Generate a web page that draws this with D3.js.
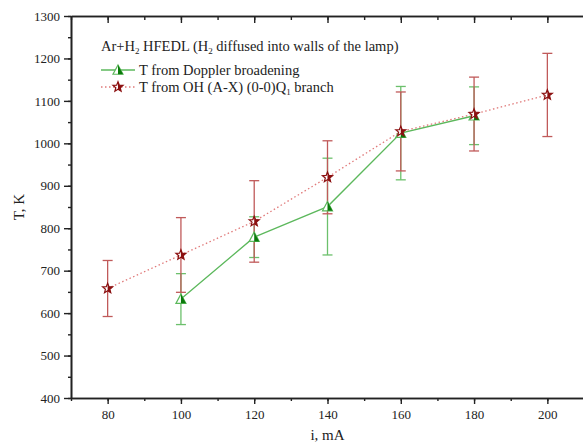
<!DOCTYPE html>
<html>
<head>
<meta charset="utf-8">
<script src="https://cdn.jsdelivr.net/npm/d3@7"></script>
<style>
  body { margin: 0; background: #fff; }
  text { font-family: "Liberation Serif", "Times New Roman", serif; fill: #222; }
</style>
</head>
<body>
<div id="chart"></div>
<script>
// data
var currents = [80, 100, 120, 140, 160, 180, 200];
var dopplerX = [100, 120, 140, 160, 180];
var dopplerT = [633, 779, 851, 1024, 1065];
var dopplerErr = [60, 48, 114, 110, 68];
var ohX = [80, 100, 120, 140, 160, 180, 200];
var ohT = [658, 737, 816, 920, 1028, 1069, 1114];
var ohErr = [66, 88, 96, 86, 93, 87, 98];
var yTicks = [400, 500, 600, 700, 800, 900, 1000, 1100, 1200, 1300];

var W = 583, H = 447;
var margin = { top: 16, right: -1, bottom: 49, left: 71 },
  width = W - margin.left - margin.right,
  height = H - margin.top - margin.bottom;

var svg = d3.select("#chart").append("svg")
  .attr("width", W).attr("height", H)
  .append("g")
  .attr("transform", "translate(" + margin.left + "," + margin.top + ")");

var x = d3.scaleLinear().domain([70, 210]).range([0, width]);
var y = d3.scaleLinear().domain([400, 1300]).range([height, 0]);

var xMinor = d3.range(70, 211, 10);
var yMinor = d3.range(400, 1301, 50);

// bottom axis
svg.append("g").attr("transform", "translate(0," + height + ")")
  .call(d3.axisBottom(x).tickValues(xMinor).tickSize(3).tickSizeOuter(0).tickFormat(""));
svg.append("g").attr("transform", "translate(0," + height + ")")
  .call(d3.axisBottom(x).tickValues(currents).tickSize(6).tickSizeOuter(0).tickPadding(6).tickFormat(d3.format("d")));
// top axis (inward)
svg.append("g").call(d3.axisBottom(x).tickValues(xMinor).tickSize(4).tickSizeOuter(0).tickFormat(""));
svg.append("g").call(d3.axisBottom(x).tickValues(currents).tickSize(7).tickSizeOuter(0).tickFormat(""));
// left axis
svg.append("g").call(d3.axisLeft(y).tickValues(yMinor).tickSize(3).tickSizeOuter(0).tickFormat(""));
svg.append("g").call(d3.axisLeft(y).tickValues(yTicks).tickSize(7).tickSizeOuter(0).tickPadding(4).tickFormat(d3.format("d")));
// right axis (inward)
svg.append("g").attr("transform", "translate(" + width + ",0)")
  .call(d3.axisLeft(y).tickValues(yMinor).tickSize(-4).tickSizeOuter(0).tickFormat(""));
svg.append("g").attr("transform", "translate(" + width + ",0)")
  .call(d3.axisLeft(y).tickValues(yTicks).tickSize(-7).tickSizeOuter(0).tickFormat(""));

svg.selectAll("g").attr("font-family", "Liberation Serif").attr("font-size", 13);
svg.selectAll(".domain").attr("stroke", "#222").attr("stroke-width", 1.6);
svg.selectAll(".tick line").attr("stroke", "#222").attr("stroke-width", 1.4);
svg.selectAll(".tick text").attr("fill", "#222");

// axis titles
svg.append("text").attr("x", x(140)).attr("y", height + 42)
  .attr("text-anchor", "middle").style("font-size", "15px").text("i, mA");
svg.append("text").attr("transform", "translate(" + (-47) + "," + y(850) + ") rotate(-90)")
  .attr("text-anchor", "middle").style("font-size", "15px").text("T, K");

// markers
function triPath(s) {
  return "M0," + (-s) + "L" + s + "," + (s * 0.85) + "L" + (-s) + "," + (s * 0.85) + "Z";
}
function triHalf(s) {
  return "M0," + (-s) + "L" + s + "," + (s * 0.85) + "L0," + (s * 0.85) + "Z";
}
function starPts(R, r) {
  var pts = [];
  for (var k = 0; k < 10; k++) {
    var a = -Math.PI / 2 + k * Math.PI / 5;
    var rr = k % 2 === 0 ? R : r;
    pts.push([rr * Math.cos(a), rr * Math.sin(a)]);
  }
  return pts;
}
function starPath(R, r) { return "M" + starPts(R, r).join("L") + "Z"; }
function starHalf(R, r) { return "M" + starPts(R, r).slice(0, 6).join("L") + "Z"; }

var green = "#5cb85c", greenDark = "#0a7a0a", red = "#e07a7a", redDark = "#8b1010", redBar = "#c05a5a";

function drawMarker(g, kind) {
  if (kind === "tri") {
    g.append("path").attr("d", triPath(5)).attr("fill", "#fff").attr("stroke", green).attr("stroke-width", 1.2);
    g.append("path").attr("d", triHalf(5)).attr("fill", greenDark);
  } else {
    g.append("path").attr("d", starPath(5.3, 2.3)).attr("fill", "#fff").attr("stroke", redDark).attr("stroke-width", 1.2);
    g.append("path").attr("d", starHalf(5.3, 2.3)).attr("fill", redDark);
  }
}

function drawSeries(xs, ts, es, kind, lineColor, dash, barColor) {
  var pts = xs.map(function (d, i) { return { x: d, t: ts[i], e: es[i] }; });
  svg.append("path").datum(pts)
    .attr("fill", "none").attr("stroke", lineColor).attr("stroke-width", 1.3)
    .attr("stroke-dasharray", dash)
    .attr("d", d3.line().x(function (d) { return x(d.x); }).y(function (d) { return y(d.t); }));
  var eb = svg.selectAll(".eb-" + kind).data(pts).enter().append("g")
    .attr("stroke", barColor).attr("stroke-width", 1.3);
  eb.append("line")
    .attr("x1", function (d) { return x(d.x); }).attr("x2", function (d) { return x(d.x); })
    .attr("y1", function (d) { return y(d.t + d.e); }).attr("y2", function (d) { return y(d.t - d.e); });
  eb.append("line")
    .attr("x1", function (d) { return x(d.x) - 5; }).attr("x2", function (d) { return x(d.x) + 5; })
    .attr("y1", function (d) { return y(d.t + d.e); }).attr("y2", function (d) { return y(d.t + d.e); });
  eb.append("line")
    .attr("x1", function (d) { return x(d.x) - 5; }).attr("x2", function (d) { return x(d.x) + 5; })
    .attr("y1", function (d) { return y(d.t - d.e); }).attr("y2", function (d) { return y(d.t - d.e); });
  return pts;
}

var gPts = drawSeries(dopplerX, dopplerT, dopplerErr, "tri", green, null, "#6cc06c");
var rPts = drawSeries(ohX, ohT, ohErr, "star", red, "1.5,2.5", redBar);

gPts.forEach(function (d) {
  drawMarker(svg.append("g").attr("transform", "translate(" + x(d.x) + "," + y(d.t) + ")"), "tri");
});
rPts.forEach(function (d) {
  drawMarker(svg.append("g").attr("transform", "translate(" + x(d.x) + "," + y(d.t) + ")"), "star");
});

// legend
var leg = svg.append("g").attr("transform", "translate(30,0)");
var t1 = leg.append("text").attr("x", 0).attr("y", 35).style("font-size", "14.5px");
t1.append("tspan").text("Ar+H");
t1.append("tspan").attr("dy", 3).style("font-size", "9px").text("2");
t1.append("tspan").attr("dy", -3).text(" HFEDL (H");
t1.append("tspan").attr("dy", 3).style("font-size", "9px").text("2");
t1.append("tspan").attr("dy", -3).text(" diffused into walls of the lamp)");

leg.append("line").attr("x1", 0).attr("x2", 34).attr("y1", 54).attr("y2", 54)
  .attr("stroke", green).attr("stroke-width", 1.3);
drawMarker(leg.append("g").attr("transform", "translate(17,54)"), "tri");
leg.append("text").attr("x", 38).attr("y", 59).style("font-size", "14.5px").text("T from Doppler broadening");

leg.append("line").attr("x1", 0).attr("x2", 34).attr("y1", 71).attr("y2", 71)
  .attr("stroke", red).attr("stroke-width", 1.3).attr("stroke-dasharray", "1.5,2.5");
drawMarker(leg.append("g").attr("transform", "translate(17,71)"), "star");
var t3 = leg.append("text").attr("x", 38).attr("y", 76).style("font-size", "14.5px");
t3.append("tspan").text("T from OH (A-X) (0-0)Q");
t3.append("tspan").attr("dy", 3).style("font-size", "9px").text("1");
t3.append("tspan").attr("dy", -3).text(" branch");
</script>
</body>
</html>
